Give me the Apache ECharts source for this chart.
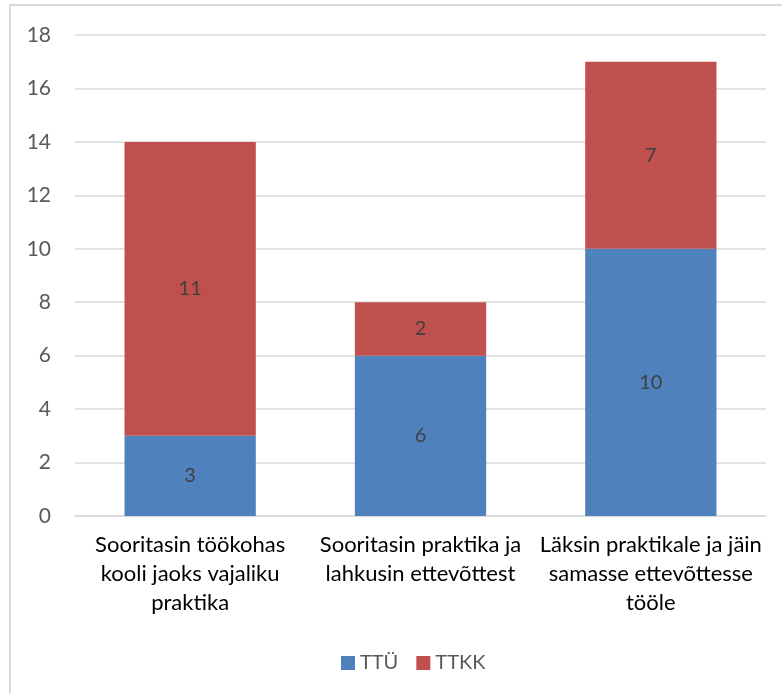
<!DOCTYPE html>
<html>
<head>
<meta charset="utf-8">
<script src="https://cdn.jsdelivr.net/npm/echarts@6/dist/echarts.min.js"></script>
<style>
  html, body { margin: 0; padding: 0; background: #fff; }
  #chart { width: 782px; height: 693px; }
</style>
</head>
<body>
<div id="chart"></div>
<script>
// Stacked bar chart: TTÜ vs TTKK per practice outcome
var categories = [
  "Sooritasin töökohas\nkooli jaoks vajaliku\npraktika",
  "Sooritasin praktika ja\nlahkusin ettevõttest",
  "Läksin praktikale ja jäin\nsamasse ettevõttesse\ntööle"
];
var ttuValues = [3, 6, 10];
var ttkkValues = [11, 2, 7];
var seriesNames = ["TTÜ", "TTKK"];

var FONT = "Lato, 'Open Sans', sans-serif";

var chart = echarts.init(document.getElementById("chart"));

function barSeries(name, data, color) {
  return {
    name: name,
    type: "bar",
    stack: "total",
    data: data,
    barWidth: "57%",
    itemStyle: { color: color },
    label: {
      show: true,
      position: "inside",
      color: "#404040",
      fontSize: 20,
      fontFamily: FONT
    },
    emphasis: { disabled: true }
  };
}

chart.setOption({
  animation: false,
  backgroundColor: "#fff",
  grid: { left: 75, right: 16, top: 35, bottom: 177, containLabel: false },
  legend: {
    data: seriesNames,
    left: 336,
    top: 648,
    itemWidth: 14,
    itemHeight: 14,
    itemGap: 18,
    icon: "rect",
    textStyle: { color: "#595959", fontSize: 20, fontFamily: FONT }
  },
  xAxis: {
    type: "category",
    data: categories,
    axisLine: { show: true, lineStyle: { color: "#d9d9d9", width: 1.5 } },
    axisTick: { show: false },
    axisLabel: {
      color: "#000",
      fontSize: 22,
      fontFamily: FONT,
      lineHeight: 29,
      margin: 14,
      interval: 0
    }
  },
  yAxis: {
    type: "value",
    min: 0,
    max: 18,
    interval: 2,
    axisLine: { show: false },
    axisTick: { show: false },
    splitLine: { lineStyle: { color: "#d9d9d9", width: 1.5 } },
    axisLabel: {
      color: "#595959",
      fontSize: 21,
      fontFamily: FONT,
      margin: 24
    }
  },
  graphic: [{
    type: "polyline",
    shape: { points: [[10, 693], [10, 5], [782, 5]] },
    style: { stroke: "#d9d9d9", lineWidth: 2, fill: null },
    silent: true
  }],
  series: [
    barSeries(seriesNames[0], ttuValues, "#4f81bd"),
    barSeries(seriesNames[1], ttkkValues, "#c0504d")
  ]
});
</script>
</body>
</html>
